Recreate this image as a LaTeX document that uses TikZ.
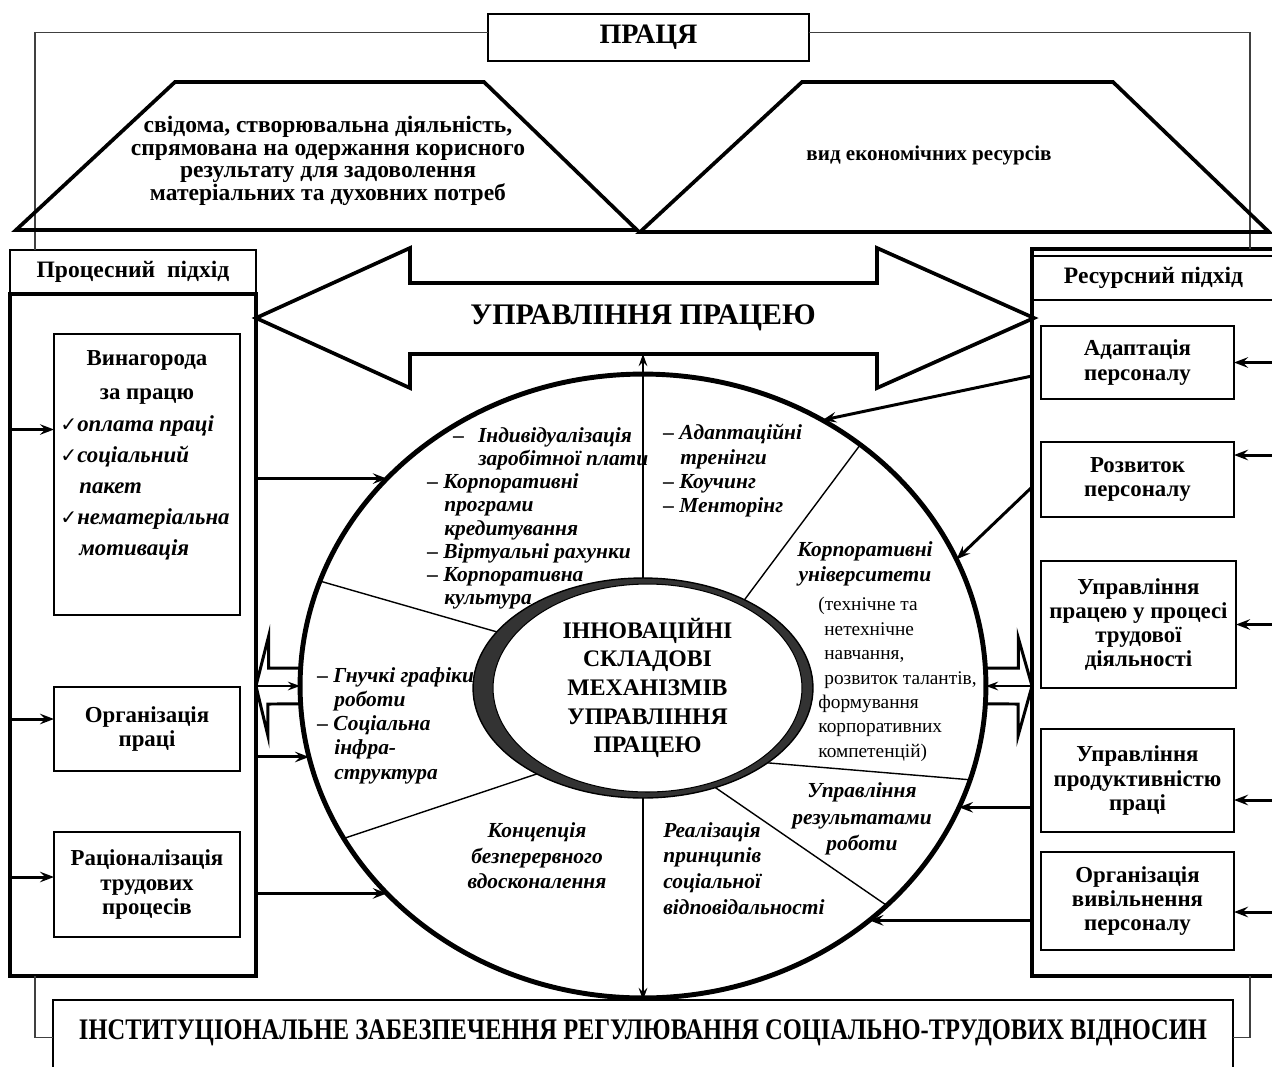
\documentclass[tikz,border=0pt]{standalone}
\usepackage{fontspec}
\setmainfont{Liberation Serif}
\newfontfamily\symfont{DejaVu Sans}
\newfontfamily\condfont[FakeStretch=0.82]{Liberation Serif}
\usetikzlibrary{arrows.meta,shapes.geometric}

\newcommand\pracfont{\fontsize{16}{17}\selectfont\bfseries}
\newcommand\trapfont{\fontsize{13.4}{12.8}\selectfont\bfseries}
\newcommand\titlefont{\fontsize{13.4}{14}\selectfont\bfseries}
\newcommand\boxfont{\fontsize{13}{13.8}\selectfont\bfseries}
\newcommand\mgmtfont{\fontsize{17}{18}\selectfont\bfseries}
\newcommand\corefont{\fontsize{13.5}{16.3}\selectfont\bfseries}
\newcommand\secfont[1]{\fontsize{12.2}{#1}\selectfont\bfseries\itshape}
\newcommand\notefont{\fontsize{11}{13.9}\selectfont}
\newcommand\instfont{\condfont\fontsize{17}{18}\selectfont\bfseries}
\newcommand\chk{{\symfont\fontsize{11.5}{12}\selectfont ✓}}
\newcommand\ind{\hspace*{0.34cm}}

\begin{document}
\begin{tikzpicture}[x=0.02cm,y=-0.02cm,
  thinframe/.style={draw=black!75, line width=0.7pt},
  panel/.style={draw, line width=2.2pt, minimum width=4.92cm, inner sep=0pt, outer sep=0pt},
  ptitle/.style={draw, line width=1.1pt, minimum height=0.88cm, inner sep=0pt, outer sep=0pt, font=\titlefont},
  box/.style={draw, line width=1.25pt, align=center, inner sep=0pt, outer sep=0pt, font=\boxfont},
  trap/.style={line width=2.1pt, line join=miter},
  arr/.style={line width=1.7pt, -{Stealth[length=8pt,width=6pt,inset=3pt]}},
  thinarr/.style={line width=0.9pt, -{Stealth[length=7pt,width=5pt,inset=2.5pt]}},
  divider/.style={line width=0.8pt},
  hollow/.style={line width=1.7pt, line join=miter},
  sector/.style={align=left, inner sep=0pt},
  ring/.style={ellipse, draw, inner sep=0pt, outer sep=0pt},
]
\useasboundingbox (0,0) rectangle (1272,1066);

% panels
\node[ptitle, minimum width=4.92cm] (proctitle) at (133,272) {Процесний\ \ підхід};
\node[panel, minimum height=13.64cm] (proc) at (133,635) {};
\node[ptitle, minimum width=5.06cm] (restitle) at (1158.5,278) {Ресурсний підхід\hspace*{0.2cm}};
\node[panel, minimum width=5.06cm, minimum height=14.54cm] (res) at (1158.5,612.5) {};

% top
\node[box, font=\pracfont, line width=1.1pt, minimum width=6.42cm, minimum height=0.94cm] (prac) at (648.5,37.5) {ПРАЦЯ};
\draw[thinframe] ([yshift=0.1cm]prac.west) -| ([xshift=0.5cm]proctitle.north west);
\draw[thinframe] ([yshift=0.1cm]prac.east) -| ([xshift=-0.7cm]res.north east);

\draw[trap] (16,230) -- (175,82) -- (484,82) -- (637,230) -- cycle;
\node[font=\trapfont, align=center] (workdef) at (328,161) {свідома, створювальна діяльність,\\спрямована на одержання корисного\\результату для задоволення\\матеріальних та духовних потреб};
\draw[trap] (640,232) -- (802,82) -- (1113,82) -- (1269,232) -- cycle;
\node[font={\fontsize{12}{13}\selectfont\bfseries}] (workres) at (929,155) {вид економічних ресурсів};

% big double arrow
\draw[trap] (256,318) -- (410,248) -- (410,283) -- (877,283) -- (877,248) -- (1034,318)
  -- (877,388) -- (877,354) -- (410,354) -- (410,388) -- cycle;
\coordinate (shaftlow) at (645,354);
\node[font=\mgmtfont] (mgmt) at (643,318) {УПРАВЛІННЯ ПРАЦЕЮ};

% left boxes
\node[box, minimum width=3.72cm, minimum height=5.62cm] (reward) at (147,474.5) {};
\node[font={\fontsize{13}{19.3}\selectfont\bfseries}, align=center] (rewardhead) at (147,377) {Винагорода\\за працю};
\node[sector, font={\fontsize{13}{17.7}\selectfont\bfseries\itshape}, anchor=north west] (rewardlist) at (60,415)
  {\chk оплата праці\\\chk соціальний\\\hspace*{0.38cm}пакет\\\chk нематеріальна\\\hspace*{0.38cm}мотивація};
\node[box, minimum width=3.72cm, minimum height=1.68cm] (orgl) at (147,729) {Організація\\праці};
\node[box, minimum width=3.72cm, minimum height=2.1cm] (ratio) at (147,884.5) {Раціоналізація\\трудових\\процесів};

% right boxes
\node[box, minimum width=3.86cm, minimum height=1.46cm] (adapt) at (1137.5,362.5) {Адаптація\\персоналу};
\node[box, minimum width=3.86cm, minimum height=1.5cm] (devel) at (1137.5,479.5) {Розвиток\\персоналу};
\node[box, minimum width=3.9cm, minimum height=2.54cm] (labmgmt) at (1138.5,624.5) {Управління\\працею у процесі\\трудової\\діяльності};
\node[box, minimum width=3.86cm, minimum height=2.06cm] (prod) at (1137.5,780.5) {Управління\\продуктивністю\\праці};
\node[box, minimum width=3.86cm, minimum height=1.96cm] (release) at (1137.5,901) {Організація\\вивільнення\\персоналу};

% bottom
\node[box, line width=1.1pt, minimum width=23.6cm, minimum height=1.5cm] (inst) at (643,1037.5) {};
\node[font=\instfont, yshift=0.1cm] (insttxt) at (inst.center) {ІНСТИТУЦІОНАЛЬНЕ ЗАБЕЗПЕЧЕННЯ РЕГУЛЮВАННЯ СОЦІАЛЬНО-ТРУДОВИХ ВІДНОСИН};
\draw[thinframe] ([xshift=0.5cm]proc.south west) |- (inst.west);
\draw[thinframe] ([xshift=-0.7cm]res.south east) |- (inst.east);

% mechanisms
\node[ring, line width=2.8pt, minimum width=13.72cm, minimum height=12.48cm] (mech) at (643,686) {};
\node[ring, line width=0.8pt, fill=black!80, minimum width=6.8cm, minimum height=4.4cm] (core) at (643,688) {};
\node[ring, line width=0.6pt, fill=white, minimum width=6.18cm, minimum height=4.16cm, align=center, font=\corefont] (corein) at (647.5,688)
  {ІННОВАЦІЙНІ\\СКЛАДОВІ\\МЕХАНІЗМІВ\\УПРАВЛІННЯ\\ПРАЦЕЮ};
\draw[divider] (core.159) -- (mech.162);
\draw[divider] (core.219) -- (mech.207);
\draw[divider] (core.41) -- (mech.48);
\draw[divider] (core.329) -- (mech.344);
\draw[divider] (core.306) -- (mech.318);
\draw[thinarr] (core.north) -- (core.north |- shaftlow);
\draw[thinarr] (core.south) -- (core.south |- inst.north);

% sector texts
\node[sector, font=\secfont{13.2}, anchor=north west] (paysec) at (427,427)
  {\hspace*{0.52cm}–\hspace*{0.28cm}Індивідуалізація\\\hspace*{1.02cm}заробітної плати\\– Корпоративні\\\ind програми\\\ind кредитування\\– Віртуальні рахунки\\– Корпоративна\\\ind культура};
\node[sector, font=\secfont{13.8}, anchor=north west] (trainsec) at (663,424)
  {– Адаптаційні\\\ind тренінги\\– Коучинг\\– Менторінг};
\node[sector, font=\secfont{14}, align=center, anchor=center] (univ) at (865,564) {Корпоративні\\університети};
\node[sector, font=\notefont, anchor=north west] (univnote) at (818,597)
  {(технічне та\\\hspace*{0.12cm}нетехнічне\\\hspace*{0.12cm}навчання,\\\hspace*{0.12cm}розвиток талантів,\\формування\\корпоративних\\компетенцій)};
\node[sector, font=\secfont{15}, align=center, anchor=center] (results) at (862,819) {Управління\\результатами\\роботи};
\node[sector, font=\secfont{14.6}, anchor=north west] (social) at (663,822) {Реалізація\\принципів\\соціальної\\відповідальності};
\node[sector, font=\secfont{14.6}, align=center, anchor=center] (kaizen) at (537,856) {Концепція\\безперервного\\вдосконалення};
\node[sector, font=\secfont{13.8}, anchor=north west] (flexsec) at (317,667)
  {– Гнучкі графіки\\\ind роботи\\– Соціальна\\\ind інфра-\\\ind структура};

% hollow arrows
\draw[hollow] (mech.177) -- ++(-32,0) -- ++(0,-32) -- (proc.east |- mech.center) -- ++(12,50) -- ++(0,-32) -- (mech.183);
\draw[thinarr] (proc.east |- mech.center) -- (mech.west);
\draw[hollow] (mech.3) -- ++(33,0) -- ++(0,-30) -- (res.west |- mech.center) -- ++(-14,50) -- ++(0,-32) -- (mech.357);
\draw[thinarr] (res.west |- mech.center) -- (mech.east);

% connectors
\draw[arr] ([yshift=0.9cm]reward.west -| proc.west) -- ([yshift=0.9cm]reward.west);
\draw[arr] ([yshift=0.2cm]orgl.west -| proc.west) -- ([yshift=0.2cm]orgl.west);
\draw[arr] ([yshift=0.15cm]ratio.west -| proc.west) -- ([yshift=0.15cm]ratio.west);
\draw[arr] (proc.east |- mech.141) -- (mech.141);
\draw[arr] (proc.east |- mech.192) -- (mech.192);
\draw[arr] (proc.east |- mech.219) -- (mech.219);

\draw[arr] (res.east |- adapt.east) -- (adapt.east);
\draw[arr] ([yshift=0.49cm]devel.east -| res.east) -- ([yshift=0.49cm]devel.east);
\draw[arr] (res.east |- labmgmt.east) -- (labmgmt.east);
\draw[arr] ([yshift=-0.39cm]prod.east -| res.east) -- ([yshift=-0.39cm]prod.east);
\draw[arr] ([yshift=-0.22cm]release.east -| res.east) -- ([yshift=-0.22cm]release.east);
\draw[arr] (res.west |- 0,376) -- (mech.56);
\draw[arr] (res.west |- 0,487) -- (mech.22);
\draw[arr] (res.west |- mech.339) -- (mech.339);
\draw[arr] (res.west |- mech.314) -- (mech.314);
\end{tikzpicture}
\end{document}
